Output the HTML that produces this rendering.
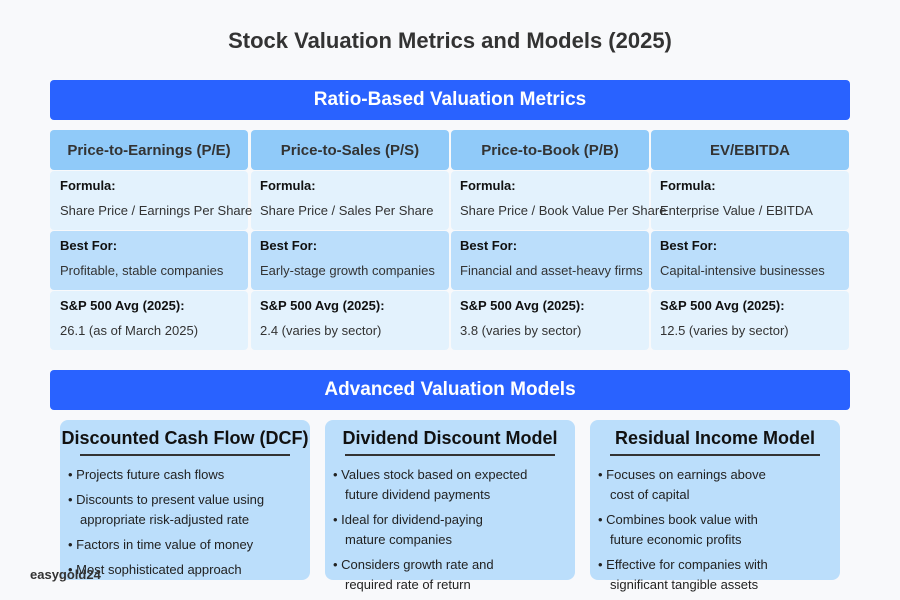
<!DOCTYPE html>
<html><head><meta charset="utf-8"><style>
*{margin:0;padding:0;box-sizing:border-box}
body{width:900px;height:600px;background:#f8f9fb;font-family:"Liberation Sans",sans-serif;position:relative;overflow:hidden;color:#222}
div{position:absolute}
.t{white-space:nowrap}
.bar{left:50px;width:800px;height:40px;background:#2962ff;border-radius:4px;color:#fff;font-weight:bold;font-size:19px;text-align:center;line-height:40px}
.hd{top:130px;width:198px;height:40px;background:#90caf9;border-radius:4px;font-weight:bold;font-size:15px;color:#333;text-align:center;line-height:42px}
.c{width:198px;height:59px;border-radius:4px}
.l{background:#e3f2fd}.m{background:#bbdefb}
.b{font-weight:bold;font-size:13px;color:#111}
.n{font-size:13px;color:#333}
.card{top:420px;width:250px;height:160px;background:#bbdefb;border-radius:8px}
.ct{font-weight:bold;font-size:18px;color:#111;text-align:center;width:250px}
.ul{height:2px;background:#333}
.li{font-size:13px;color:#222;white-space:nowrap}
</style></head><body>
<div class="t" style="top:28px;width:900px;text-align:center;font-weight:bold;font-size:22px;color:#333">Stock Valuation Metrics and Models (2025)</div>
<div class="bar" style="top:80px">Ratio-Based Valuation Metrics</div>

<div class="hd" style="left:50px">Price-to-Earnings (P/E)</div>
<div class="hd" style="left:251px">Price-to-Sales (P/S)</div>
<div class="hd" style="left:451px">Price-to-Book (P/B)</div>
<div class="hd" style="left:651px">EV/EBITDA</div>

<div class="c l" style="left:50px;top:171px"></div><div class="c l" style="left:251px;top:171px"></div><div class="c l" style="left:451px;top:171px"></div><div class="c l" style="left:651px;top:171px"></div>
<div class="c m" style="left:50px;top:231px"></div><div class="c m" style="left:251px;top:231px"></div><div class="c m" style="left:451px;top:231px"></div><div class="c m" style="left:651px;top:231px"></div>
<div class="c l" style="left:50px;top:291px"></div><div class="c l" style="left:251px;top:291px"></div><div class="c l" style="left:451px;top:291px"></div><div class="c l" style="left:651px;top:291px"></div>

<div class="t b" style="left:60px;top:178px">Formula:</div><div class="t n" style="left:60px;top:203px">Share Price / Earnings Per Share</div>
<div class="t b" style="left:260px;top:178px">Formula:</div><div class="t n" style="left:260px;top:203px">Share Price / Sales Per Share</div>
<div class="t b" style="left:460px;top:178px">Formula:</div><div class="t n" style="left:460px;top:203px">Share Price / Book Value Per Share</div>
<div class="t b" style="left:660px;top:178px">Formula:</div><div class="t n" style="left:660px;top:203px">Enterprise Value / EBITDA</div>

<div class="t b" style="left:60px;top:238px">Best For:</div><div class="t n" style="left:60px;top:263px">Profitable, stable companies</div>
<div class="t b" style="left:260px;top:238px">Best For:</div><div class="t n" style="left:260px;top:263px">Early-stage growth companies</div>
<div class="t b" style="left:460px;top:238px">Best For:</div><div class="t n" style="left:460px;top:263px">Financial and asset-heavy firms</div>
<div class="t b" style="left:660px;top:238px">Best For:</div><div class="t n" style="left:660px;top:263px">Capital-intensive businesses</div>

<div class="t b" style="left:60px;top:298px">S&amp;P 500 Avg (2025):</div><div class="t n" style="left:60px;top:323px">26.1 (as of March 2025)</div>
<div class="t b" style="left:260px;top:298px">S&amp;P 500 Avg (2025):</div><div class="t n" style="left:260px;top:323px">2.4 (varies by sector)</div>
<div class="t b" style="left:460px;top:298px">S&amp;P 500 Avg (2025):</div><div class="t n" style="left:460px;top:323px">3.8 (varies by sector)</div>
<div class="t b" style="left:660px;top:298px">S&amp;P 500 Avg (2025):</div><div class="t n" style="left:660px;top:323px">12.5 (varies by sector)</div>

<div class="bar" style="top:370px">Advanced Valuation Models</div>

<div class="card" style="left:60px"></div>
<div class="card" style="left:325px"></div>
<div class="card" style="left:590px"></div>

<div class="ct t" style="left:60px;top:428px">Discounted Cash Flow (DCF)</div>
<div class="ul" style="left:80px;top:454px;width:210px"></div>
<div class="li" style="left:68px;top:467px">• Projects future cash flows</div>
<div class="li" style="left:68px;top:492px">• Discounts to present value using</div>
<div class="li" style="left:80px;top:512px">appropriate risk-adjusted rate</div>
<div class="li" style="left:68px;top:537px">• Factors in time value of money</div>
<div class="li" style="left:68px;top:562px">• Most sophisticated approach</div>

<div class="ct t" style="left:325px;top:428px">Dividend Discount Model</div>
<div class="ul" style="left:345px;top:454px;width:210px"></div>
<div class="li" style="left:333px;top:467px">• Values stock based on expected</div>
<div class="li" style="left:345px;top:487px">future dividend payments</div>
<div class="li" style="left:333px;top:512px">• Ideal for dividend-paying</div>
<div class="li" style="left:345px;top:532px">mature companies</div>
<div class="li" style="left:333px;top:557px">• Considers growth rate and</div>
<div class="li" style="left:345px;top:577px">required rate of return</div>

<div class="ct t" style="left:590px;top:428px">Residual Income Model</div>
<div class="ul" style="left:610px;top:454px;width:210px"></div>
<div class="li" style="left:598px;top:467px">• Focuses on earnings above</div>
<div class="li" style="left:610px;top:487px">cost of capital</div>
<div class="li" style="left:598px;top:512px">• Combines book value with</div>
<div class="li" style="left:610px;top:532px">future economic profits</div>
<div class="li" style="left:598px;top:557px">• Effective for companies with</div>
<div class="li" style="left:610px;top:577px">significant tangible assets</div>

<div class="t" style="left:30px;top:567px;font-weight:bold;font-size:13px;color:#333">easygold24</div>
</body></html>
